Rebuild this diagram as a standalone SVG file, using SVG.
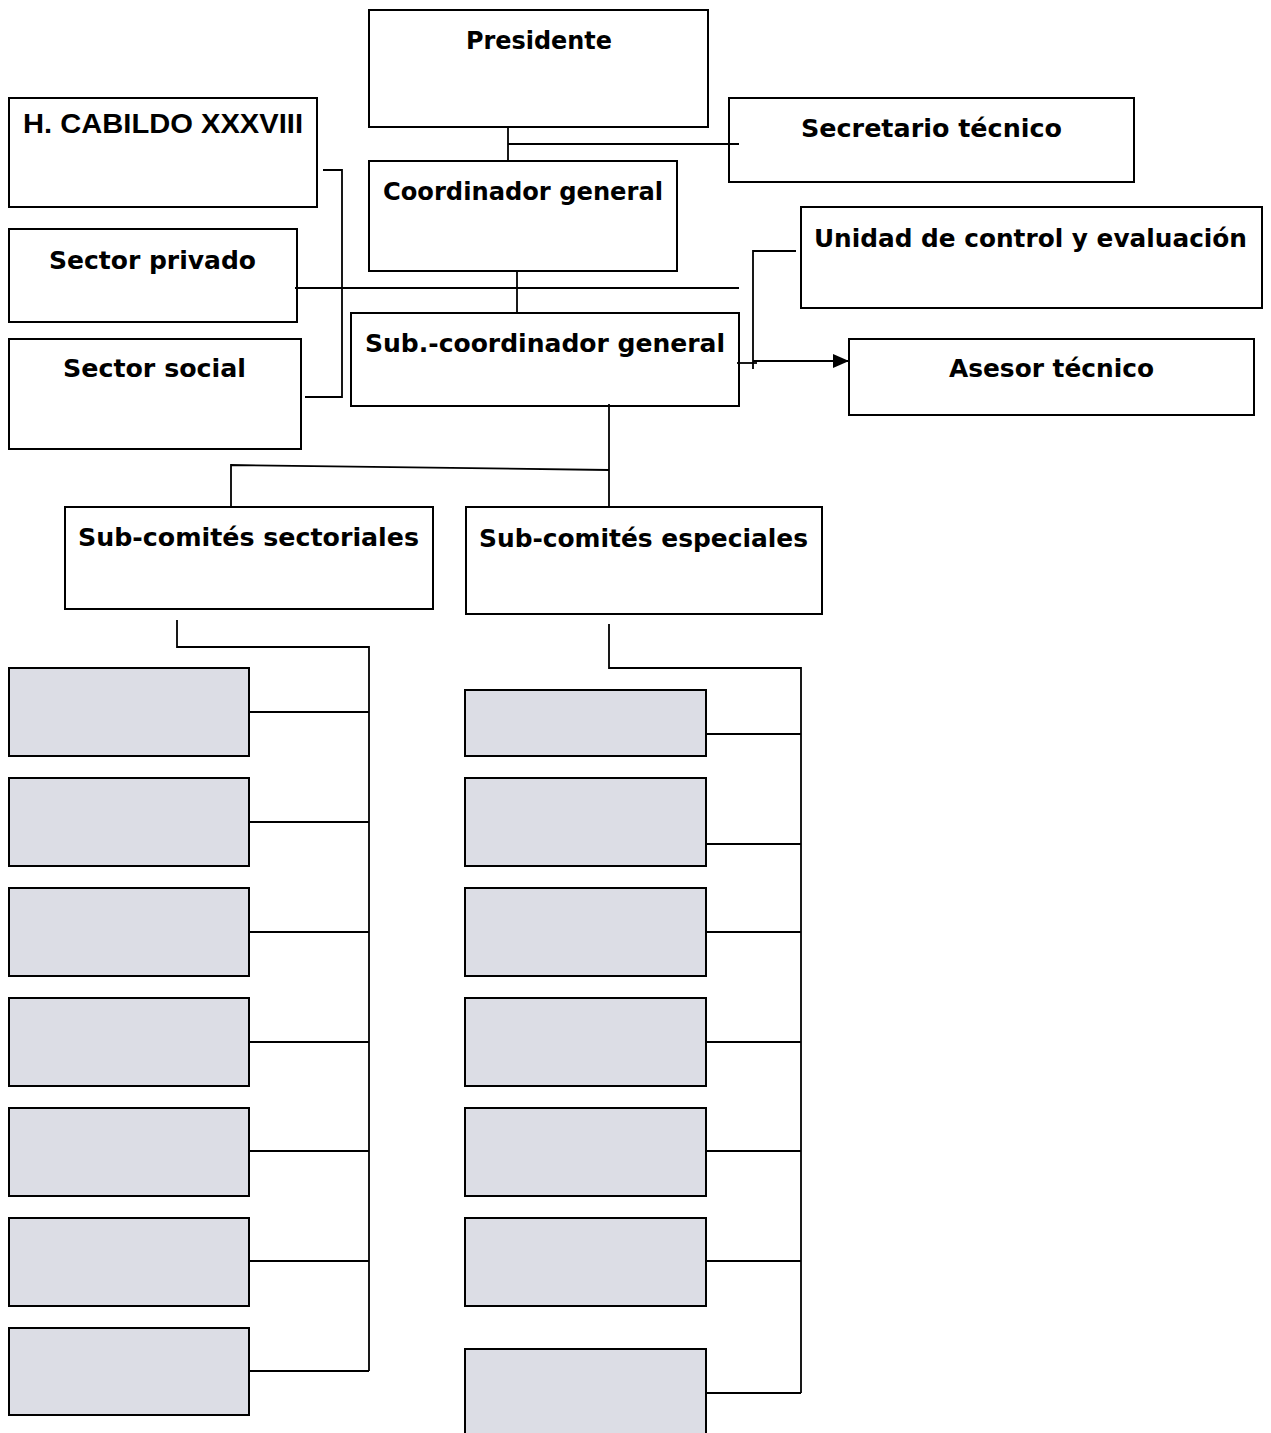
<svg xmlns="http://www.w3.org/2000/svg" width="1271" height="1433" viewBox="0 0 1271 1433">
<defs>
<style>
.box{fill:#ffffff;stroke:#000000;stroke-width:2}
.gray{fill:#dcdde5;stroke:#000000;stroke-width:2}
.lbl{font-family:"DejaVu Sans","Liberation Sans",sans-serif;font-weight:bold;font-size:24px;fill:#000000}
.arial{font-family:"Liberation Sans",Arial,sans-serif;font-weight:bold;font-size:28px;fill:#000000}
.con{fill:none;stroke:#000000;stroke-width:1.8}
</style>
<marker id="arr" viewBox="0 0 16 14" refX="16" refY="7" markerWidth="16" markerHeight="14" markerUnits="userSpaceOnUse" orient="auto">
<path d="M0,0 L16,7 L0,14 Z" fill="#000000"/>
</marker>
</defs>
<rect width="1271" height="1433" fill="#ffffff"/>
<g id="nodes">
<g id="presidente"><rect class="box" x="369" y="10" width="339" height="117"/><text class="lbl" x="466" y="49" textLength="146" lengthAdjust="spacingAndGlyphs">Presidente</text></g>
<g id="cabildo"><rect class="box" x="9" y="98" width="308" height="109"/><text class="arial" x="23" y="133" textLength="280" lengthAdjust="spacingAndGlyphs">H. CABILDO XXXVIII</text></g>
<g id="secretario"><rect class="box" x="729" y="98" width="405" height="84"/><text class="lbl" x="801" y="137" textLength="261" lengthAdjust="spacingAndGlyphs">Secretario técnico</text></g>
<g id="coordinador"><rect class="box" x="369" y="161" width="308" height="110"/><text class="lbl" x="383" y="200" textLength="280" lengthAdjust="spacingAndGlyphs">Coordinador general</text></g>
<g id="privado"><rect class="box" x="9" y="229" width="288" height="93"/><text class="lbl" x="49" y="269" textLength="207" lengthAdjust="spacingAndGlyphs">Sector privado</text></g>
<g id="unidad"><rect class="box" x="801" y="207" width="461" height="101"/><text class="lbl" x="814" y="247" textLength="433" lengthAdjust="spacingAndGlyphs">Unidad de control y evaluación</text></g>
<g id="subcoordinador"><rect class="box" x="351" y="313" width="388" height="93"/><text class="lbl" x="365" y="352" textLength="360" lengthAdjust="spacingAndGlyphs">Sub.-coordinador general</text></g>
<g id="social"><rect class="box" x="9" y="339" width="292" height="110"/><text class="lbl" x="63" y="377" textLength="183" lengthAdjust="spacingAndGlyphs">Sector social</text></g>
<g id="asesor"><rect class="box" x="849" y="339" width="405" height="76"/><text class="lbl" x="949" y="377" textLength="205" lengthAdjust="spacingAndGlyphs">Asesor técnico</text></g>
<g id="sectoriales"><rect class="box" x="65" y="507" width="368" height="102"/><text class="lbl" x="78" y="546" textLength="341" lengthAdjust="spacingAndGlyphs">Sub-comités sectoriales</text></g>
<g id="especiales"><rect class="box" x="466" y="507" width="356" height="107"/><text class="lbl" x="479" y="547" textLength="329" lengthAdjust="spacingAndGlyphs">Sub-comités especiales</text></g>
<g id="sect1"><rect class="gray" x="9" y="668" width="240" height="88"/></g>
<g id="sect2"><rect class="gray" x="9" y="778" width="240" height="88"/></g>
<g id="sect3"><rect class="gray" x="9" y="888" width="240" height="88"/></g>
<g id="sect4"><rect class="gray" x="9" y="998" width="240" height="88"/></g>
<g id="sect5"><rect class="gray" x="9" y="1108" width="240" height="88"/></g>
<g id="sect6"><rect class="gray" x="9" y="1218" width="240" height="88"/></g>
<g id="sect7"><rect class="gray" x="9" y="1328" width="240" height="87"/></g>
<g id="esp1"><rect class="gray" x="465" y="690" width="241" height="66"/></g>
<g id="esp2"><rect class="gray" x="465" y="778" width="241" height="88"/></g>
<g id="esp3"><rect class="gray" x="465" y="888" width="241" height="88"/></g>
<g id="esp4"><rect class="gray" x="465" y="998" width="241" height="88"/></g>
<g id="esp5"><rect class="gray" x="465" y="1108" width="241" height="88"/></g>
<g id="esp6"><rect class="gray" x="465" y="1218" width="241" height="88"/></g>
<g id="esp7"><rect class="gray" x="465" y="1349" width="241" height="95"/></g>
</g>
<g id="connectors">
<line class="con" x1="508" y1="127" x2="508" y2="161"/>
<line class="con" x1="508" y1="144" x2="739" y2="144"/>
<line class="con" x1="517" y1="271" x2="517" y2="313"/>
<line class="con" x1="295" y1="288" x2="739" y2="288"/>
<polyline class="con" points="323,170 342,170 342,397 305,397"/>
<polyline class="con" points="796,251 753,251 753,369"/>
<line class="con" x1="737" y1="363" x2="757" y2="363"/>
<line class="con" x1="753" y1="361" x2="849" y2="361" marker-end="url(#arr)"/>
<line class="con" x1="609" y1="404" x2="609" y2="507"/>
<polyline class="con" points="231,507 231,465 609,470"/>
<polyline class="con" points="177,620 177,647 369,647 369,1371"/>
<line class="con" x1="249" y1="712" x2="369" y2="712"/>
<line class="con" x1="249" y1="822" x2="369" y2="822"/>
<line class="con" x1="249" y1="932" x2="369" y2="932"/>
<line class="con" x1="249" y1="1042" x2="369" y2="1042"/>
<line class="con" x1="249" y1="1151" x2="369" y2="1151"/>
<line class="con" x1="249" y1="1261" x2="369" y2="1261"/>
<line class="con" x1="249" y1="1371" x2="369" y2="1371"/>
<polyline class="con" points="609,624 609,668 801,668 801,1393"/>
<line class="con" x1="706" y1="734" x2="801" y2="734"/>
<line class="con" x1="706" y1="844" x2="801" y2="844"/>
<line class="con" x1="706" y1="932" x2="801" y2="932"/>
<line class="con" x1="706" y1="1042" x2="801" y2="1042"/>
<line class="con" x1="706" y1="1151" x2="801" y2="1151"/>
<line class="con" x1="706" y1="1261" x2="801" y2="1261"/>
<line class="con" x1="706" y1="1393" x2="801" y2="1393"/>
</g>
</svg>
